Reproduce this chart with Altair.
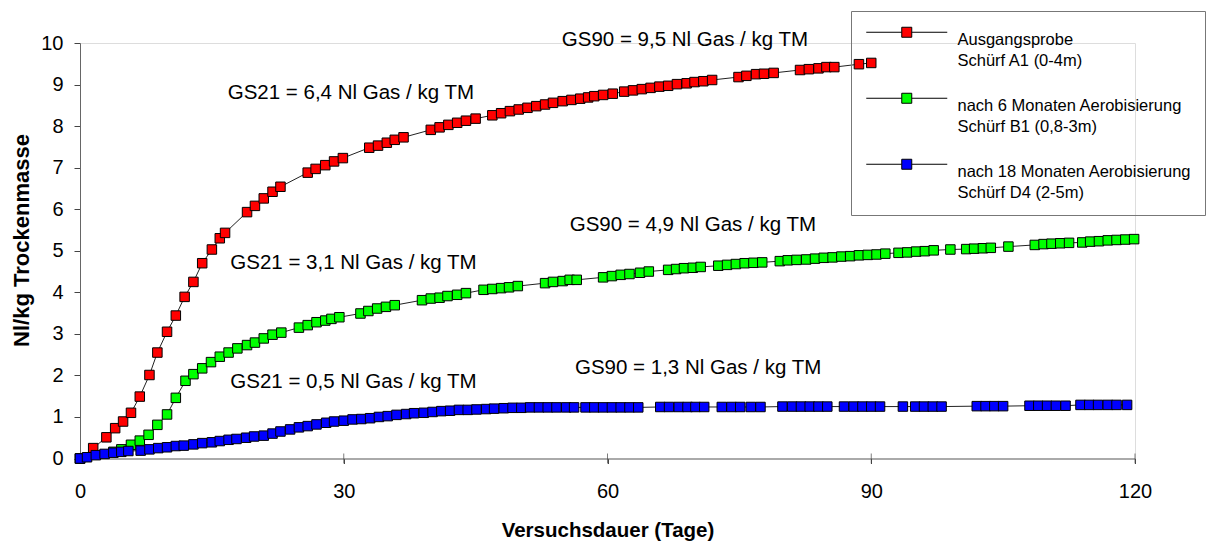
import altair as alt
import pandas as pd

# ---------------- data ----------------
series_names = [
    "Ausgangsprobe|Schürf A1 (0-4m)",
    "nach 6 Monaten Aerobisierung|Schürf B1 (0,8-3m)",
    "nach 18 Monaten Aerobisierung|Schürf D4 (2-5m)",
]
series_colors = ["#FF0000", "#00FF00", "#0000FF"]

red_days = [0, 1.5, 3.0, 4.0, 4.9, 5.8, 6.8, 7.9, 8.8, 9.9,
            10.9, 11.9, 12.9, 13.9, 15.0, 15.9, 16.5, 19.0, 19.9, 20.9,
            21.9, 22.8, 25.9, 26.8, 27.9, 28.9, 29.9, 32.9, 33.9, 34.9,
            35.8, 36.8, 39.9, 40.9, 41.9, 42.9, 43.9, 45.0, 46.9, 47.9,
            48.9, 49.9, 50.9, 51.9, 52.9, 53.8, 54.9, 55.9, 56.9, 57.8,
            58.5, 59.5, 60.6, 61.9, 62.9, 63.9, 64.9, 65.9, 66.9, 67.9,
            69.0, 69.9, 70.9, 71.9, 74.9, 75.8, 76.9, 77.8, 78.9, 81.9,
            82.9, 84.0, 84.9, 85.8, 88.6, 90.0]
red_vals = [0.0, 0.25, 0.51, 0.73, 0.89, 1.10, 1.49, 2.01, 2.55, 3.05,
            3.44, 3.89, 4.25, 4.70, 5.03, 5.30, 5.43, 5.93, 6.08, 6.26,
            6.42, 6.54, 6.88, 6.97, 7.06, 7.15, 7.23, 7.48, 7.53, 7.60,
            7.67, 7.73, 7.91, 7.97, 8.03, 8.08, 8.13, 8.18, 8.26, 8.31,
            8.36, 8.40, 8.44, 8.48, 8.52, 8.56, 8.60, 8.63, 8.66, 8.69,
            8.72, 8.75, 8.78, 8.83, 8.86, 8.89, 8.92, 8.95, 8.97, 9.01,
            9.03, 9.06, 9.08, 9.11, 9.18, 9.21, 9.25, 9.26, 9.28, 9.35,
            9.37, 9.39, 9.42, 9.42, 9.49, 9.52]

green_days = [0, 3.8, 4.7, 5.8, 6.8, 7.8, 8.8, 9.9, 10.9, 12.0,
              12.9, 13.9, 14.9, 15.9, 16.9, 17.9, 19.0, 19.9, 20.9, 21.9,
              22.9, 24.9, 25.9, 26.9, 27.9, 28.6, 29.5, 31.9, 32.8, 33.8,
              34.8, 35.8, 38.9, 39.9, 40.9, 41.8, 42.9, 43.9, 45.9, 46.9,
              47.9, 48.8, 49.8, 52.9, 53.8, 54.9, 55.7, 56.5, 59.5, 60.5,
              61.5, 62.5, 63.7, 64.7, 66.9, 67.8, 68.7, 69.7, 70.6, 72.6,
              73.6, 74.6, 75.6, 76.6, 77.6, 79.6, 80.5, 81.5, 82.6, 83.6,
              84.6, 85.6, 86.6, 87.6, 88.6, 89.6, 90.6, 91.6, 93.1, 94.1,
              95.1, 96.1, 97.1, 99.0, 100.8, 101.7, 102.7, 103.6, 105.6, 108.6,
              109.6, 110.5, 111.5, 112.5, 114.0, 114.9, 115.9, 116.9, 117.9, 118.9,
              119.9]
green_vals = [0.0, 0.16, 0.22, 0.33, 0.43, 0.57, 0.81, 1.06, 1.46, 1.87,
              2.03, 2.17, 2.32, 2.45, 2.55, 2.65, 2.73, 2.79, 2.89, 2.98,
              3.03, 3.15, 3.21, 3.28, 3.32, 3.36, 3.40, 3.49, 3.55, 3.61,
              3.65, 3.69, 3.81, 3.85, 3.87, 3.91, 3.94, 3.98, 4.06, 4.08,
              4.10, 4.12, 4.15, 4.22, 4.25, 4.27, 4.30, 4.30, 4.36, 4.39,
              4.42, 4.44, 4.47, 4.50, 4.54, 4.56, 4.58, 4.59, 4.61, 4.64,
              4.66, 4.68, 4.70, 4.71, 4.72, 4.75, 4.77, 4.78, 4.79, 4.81,
              4.83, 4.84, 4.86, 4.87, 4.89, 4.90, 4.91, 4.93, 4.95, 4.96,
              4.98, 4.99, 5.01, 5.03, 5.04, 5.05, 5.06, 5.07, 5.10, 5.14,
              5.16, 5.17, 5.18, 5.19, 5.20, 5.22, 5.23, 5.25, 5.26, 5.27,
              5.28]

blue_days = [0, 0.8, 1.8, 2.8, 3.8, 4.7, 5.5, 6.9, 7.9, 8.9,
             9.9, 10.9, 11.8, 12.9, 13.9, 15.0, 15.9, 16.9, 17.8, 18.9,
             19.8, 20.9, 21.9, 22.8, 23.9, 24.9, 25.9, 26.9, 28.0, 28.9,
             30.0, 31.0, 32.0, 33.0, 34.0, 35.0, 36.0, 37.1, 38.0, 39.1,
             40.1, 41.1, 42.1, 43.1, 44.1, 45.1, 46.2, 47.1, 48.2, 49.2,
             50.2, 51.2, 52.2, 53.2, 54.2, 55.3, 56.2, 57.5, 58.5, 59.5,
             60.5, 61.5, 62.5, 63.5, 66.0, 67.0, 68.1, 69.1, 70.0, 71.0,
             73.0, 74.1, 75.1, 76.3, 77.4, 79.9, 81.0, 82.0, 83.0, 84.0,
             85.0, 86.9, 88.0, 89.0, 90.0, 91.0, 93.6, 95.0, 96.0, 97.0,
             98.0, 102.0, 103.0, 104.0, 105.0, 108.0, 109.0, 110.0, 111.0, 112.1,
             113.8, 114.8, 115.8, 116.9, 117.9, 119.1]
blue_vals = [0.0, 0.03, 0.08, 0.11, 0.14, 0.16, 0.18, 0.19, 0.22, 0.25,
             0.27, 0.30, 0.31, 0.34, 0.37, 0.39, 0.42, 0.45, 0.47, 0.50,
             0.53, 0.55, 0.60, 0.65, 0.70, 0.75, 0.78, 0.82, 0.86, 0.89,
             0.91, 0.94, 0.95, 0.97, 1.00, 1.02, 1.05, 1.07, 1.09, 1.10,
             1.12, 1.14, 1.15, 1.17, 1.17, 1.18, 1.19, 1.20, 1.21, 1.22,
             1.22, 1.23, 1.23, 1.23, 1.23, 1.23, 1.23, 1.23, 1.23, 1.23,
             1.23, 1.23, 1.23, 1.23, 1.24, 1.24, 1.24, 1.24, 1.24, 1.24,
             1.24, 1.24, 1.24, 1.24, 1.24, 1.25, 1.25, 1.25, 1.25, 1.25,
             1.25, 1.25, 1.25, 1.25, 1.25, 1.25, 1.25, 1.25, 1.25, 1.25,
             1.25, 1.26, 1.26, 1.26, 1.26, 1.27, 1.27, 1.27, 1.27, 1.27,
             1.29, 1.29, 1.29, 1.29, 1.29, 1.29]

ann_texts = ["GS90 = 9,5 Nl Gas / kg TM", "GS21 = 6,4 Nl Gas / kg TM",
             "GS90 = 4,9 Nl Gas / kg TM", "GS21 = 3,1 Nl Gas / kg TM",
             "GS90 = 1,3 Nl Gas / kg TM", "GS21 = 0,5 Nl Gas / kg TM"]
ann_x = [54.8, 16.8, 55.7, 17.1, 56.3, 17.1]
ann_y = [10.07, 8.80, 5.62, 4.71, 2.19, 1.84]

x_ticks = [0, 30, 60, 90, 120]
y_ticks = list(range(0, 11))

# ---------------- build table ----------------
assert len(red_days) == len(red_vals)
assert len(green_days) == len(green_vals)
assert len(blue_days) == len(blue_vals)
rows = []
for name, ds, vs in zip(series_names, [red_days, green_days, blue_days],
                        [red_vals, green_vals, blue_vals]):
    for d, v in zip(ds, vs):
        rows.append({"day": d, "val": v, "series": name})
df = pd.DataFrame(rows)
ann = pd.DataFrame({"text": ann_texts, "x": ann_x, "y": ann_y})
xt = pd.DataFrame({"t": x_ticks, "zero": [0] * len(x_ticks)})

FONT = "Liberation Sans"

xscale = alt.Scale(domain=[0, 120], nice=False, zero=False)
yscale = alt.Scale(domain=[0, 10], nice=False, zero=False)

x_axis = alt.Axis(values=x_ticks, grid=False, tickSize=5, labelPadding=18,
                  labelFlush=False,
                  labelFontSize=20, labelFont=FONT, labelColor="black",
                  domainColor="#666666", tickColor="#444444",
                  title="Versuchsdauer (Tage)", titleFont=FONT,
                  titleFontSize=20.5, titleFontWeight="bold", titleColor="black",
                  titleY=72, titleBaseline="middle")
y_axis = alt.Axis(values=y_ticks, grid=False, tickSize=6, labelPadding=11,
                  labelFlush=False,
                  labelFontSize=20, labelFont=FONT, labelColor="black",
                  domainColor="#666666", tickColor="#444444",
                  title="Nl/kg Trockenmasse", titleFont=FONT,
                  titleFontSize=22, titleFontWeight="bold", titleColor="black",
                  titleX=-59, titleY=197, titleAngle=270, titleAlign="center",
                  titleBaseline="middle")

legend = alt.Legend(
    orient="none", legendX=771, legendY=-32, title=None,
    symbolType="M-8.1,0H-1M1,0H8.1M-1,-1H1V1H-1Z", symbolSize=100,
    symbolStrokeColor="black", symbolStrokeWidth=1, symbolOpacity=1,
    labelFont=FONT, labelFontSize=16.5, labelColor="black", labelLimit=500,
    labelExpr="split(datum.label, '|')",
    labelBaseline="top", labelOffset=42.5, symbolOffset=34.5,
    strokeColor="#777777", padding=13, rowPadding=20,
)

base = alt.Chart(df)
lines = base.mark_line(color="#222222", strokeWidth=1).encode(
    x=alt.X("day:Q", scale=xscale, axis=x_axis),
    y=alt.Y("val:Q", scale=yscale, axis=y_axis),
    detail="series:N",
)
inner_ticks = alt.Chart(xt).mark_tick(orient="vertical", size=10, thickness=1,
                                      color="#444444").encode(
    x=alt.X("t:Q", scale=xscale),
    y=alt.Y("zero:Q", scale=yscale),
)
points = base.mark_point(shape="square", filled=True, size=90, stroke="black",
                         strokeWidth=1, opacity=1).encode(
    x=alt.X("day:Q", scale=xscale),
    y=alt.Y("val:Q", scale=yscale),
    color=alt.Color("series:N", scale=alt.Scale(domain=series_names, range=series_colors),
                    sort=series_names, legend=legend),
)
texts = alt.Chart(ann).mark_text(align="left", baseline="middle", font=FONT,
                                 fontSize=20.5, color="black").encode(
    x=alt.X("x:Q", scale=xscale),
    y=alt.Y("y:Q", scale=yscale),
    text="text:N",
)

chart = alt.layer(inner_ticks, lines, points, texts).properties(
    width=1055, height=415.5,
    autosize=alt.AutoSizeParams(type="none"),
    padding={"left": 80, "top": 43, "right": 71, "bottom": 84.5},
).configure_view(stroke=None).configure(
    background="white",
    style={"guide-label": {"lineHeight": 21}},
)

chart.save("out.html", embed_options={"renderer": "svg", "actions": False})
